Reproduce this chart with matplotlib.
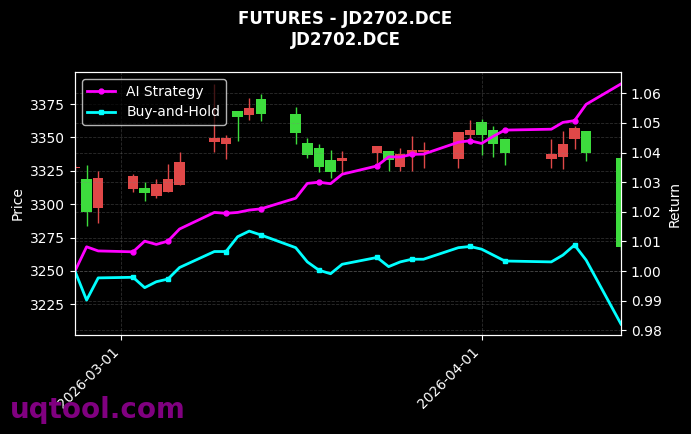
import pandas as pd
import matplotlib
matplotlib.use("Agg")
import matplotlib.pyplot as plt
import matplotlib.dates as mdates

# JD2702.DCE daily bars
dates = pd.to_datetime([
    "2026-02-25", "2026-02-26", "2026-02-27",
    "2026-03-02", "2026-03-03", "2026-03-04", "2026-03-05", "2026-03-06",
    "2026-03-09", "2026-03-10", "2026-03-11", "2026-03-12", "2026-03-13",
    "2026-03-16", "2026-03-17", "2026-03-18", "2026-03-19", "2026-03-20",
    "2026-03-23", "2026-03-24", "2026-03-25", "2026-03-26", "2026-03-27",
    "2026-03-30", "2026-03-31", "2026-04-01", "2026-04-02", "2026-04-03",
    "2026-04-07", "2026-04-08", "2026-04-09", "2026-04-10", "2026-04-13",
])
opens = [3327.0, 3319.0, 3297.0, 3311.4, 3312.0, 3306.5, 3309.4, 3314.4,
         3346.3, 3344.8, 3369.8, 3366.8, 3378.7, 3367.5, 3345.6, 3341.8,
         3333.0, 3332.6, 3338.6, 3339.8, 3328.0, 3336.8, 3339.3, 3333.8,
         3351.8, 3361.3, 3355.5, 3348.8, 3333.8, 3335.6, 3348.8, 3354.8, 3334.8]
highs = [3329.0, 3329.0, 3325.0, 3322.4, 3316.4, 3318.6, 3330.0, 3338.8,
         3390.0, 3351.8, 3369.8, 3379.3, 3382.5, 3372.5, 3349.3, 3344.8,
         3340.6, 3340.0, 3343.6, 3339.8, 3341.8, 3351.0, 3346.3, 3353.8,
         3363.0, 3363.8, 3358.5, 3348.8, 3348.8, 3354.8, 3358.8, 3354.8, 3336.0]
lows = [3326.0, 3284.0, 3286.0, 3309.0, 3302.4, 3304.9, 3309.4, 3314.4,
        3339.3, 3333.6, 3347.5, 3363.0, 3362.3, 3344.8, 3334.4, 3324.3,
        3319.4, 3323.1, 3330.6, 3324.8, 3324.8, 3324.8, 3326.9, 3327.4,
        3346.8, 3336.8, 3335.6, 3329.3, 3327.4, 3326.3, 3341.3, 3332.3, 3266.0]
closes = [3327.8, 3294.0, 3319.5, 3321.0, 3308.6, 3315.0, 3318.6, 3331.6,
          3349.3, 3349.3, 3365.5, 3371.8, 3367.3, 3353.5, 3336.8, 3328.0,
          3324.3, 3334.8, 3343.6, 3333.0, 3337.3, 3340.3, 3340.3, 3353.8,
          3355.5, 3351.8, 3345.0, 3338.6, 3337.3, 3345.0, 3356.8, 3338.6, 3268.2]

ai_return = [1.000, 1.0082, 1.0068, 1.0065, 1.0101, 1.0090, 1.0101, 1.0142,
             1.0198, 1.0195, 1.0198, 1.0206, 1.0210, 1.0246, 1.0296, 1.0300,
             1.0295, 1.0327, 1.0355, 1.0386, 1.0385, 1.0394, 1.0395, 1.0435,
             1.0440, 1.0431, 1.0455, 1.0476, 1.0479, 1.0502, 1.0508, 1.0563, 1.0632]
bh_return = [1.000, 0.9902, 0.9977, 0.9979, 0.9944, 0.9964, 0.9973, 1.0012,
             1.0066, 1.0066, 1.0116, 1.0135, 1.0122, 1.0079, 1.0031, 1.0003,
             0.9991, 1.0023, 1.0046, 1.0015, 1.0031, 1.0040, 1.0040, 1.0079,
             1.0083, 1.0074, 1.0054, 1.0034, 1.0031, 1.0054, 1.0088, 1.0037, 0.9821]

UP = "#e04848"
DOWN = "#3ddc3d"


def plot_chart():
    fig = plt.figure(figsize=(6.91, 4.34), dpi=100, facecolor="black")
    ax = fig.add_subplot(111)
    fig.subplots_adjust(left=0.1085, right=0.8987, top=0.834, bottom=0.228)
    ax.set_facecolor("black")

    colors = [UP if c >= o else DOWN for o, c in zip(opens, closes)]
    bottoms = [min(o, c) for o, c in zip(opens, closes)]
    heights = [max(abs(c - o), 0.8) for o, c in zip(opens, closes)]
    ax.vlines(dates, lows, highs, colors=colors, linewidth=1, zorder=2)
    ax.bar(dates, heights, bottom=bottoms, width=0.9, color=colors, zorder=3)

    ax.set_xlim(dates[0], dates[-1])
    ax.set_ylim(3202, 3399)
    ax.set_ylabel("Price", color="white")
    ax.xaxis.set_major_locator(mdates.MonthLocator())
    ax.xaxis.set_major_formatter(mdates.DateFormatter("%Y-%m-%d"))
    ax.grid(True, linestyle="--", color="gray", alpha=0.35, linewidth=0.6)

    ax2 = ax.twinx()
    ax2.plot(dates, ai_return, color="magenta", lw=2, marker="o", ms=3.5,
             markevery=slice(3, None, 3), label="AI Strategy")
    ax2.plot(dates, bh_return, color="cyan", lw=2, marker="s", ms=3.5,
             markevery=slice(3, None, 3), label="Buy-and-Hold")
    ax2.set_ylim(0.9784, 1.0672)
    ax2.set_ylabel("Return", color="white")
    ax2.grid(True, axis="y", linestyle="--", color="gray", alpha=0.35, linewidth=0.6)

    for a in (ax, ax2):
        a.tick_params(colors="white", labelsize=10)
        for s in a.spines.values():
            s.set_color("white")
    plt.setp(ax.get_xticklabels(), rotation=45, ha="right")

    leg = ax2.legend(loc="upper left", facecolor="black", edgecolor="white",
                     labelcolor="white", fontsize=10, framealpha=0.7)

    fig.suptitle("FUTURES - JD2702.DCE\nJD2702.DCE", color="white",
                 fontsize=12, fontweight="bold", y=0.977)
    fig.text(10 / 691, 16 / 434, "uqtool.com", color="#800080",
             fontsize=20, fontweight="bold", va="baseline")

    fig.savefig("out.png", dpi=100, facecolor="black")


if __name__ == "__main__":
    plot_chart()
